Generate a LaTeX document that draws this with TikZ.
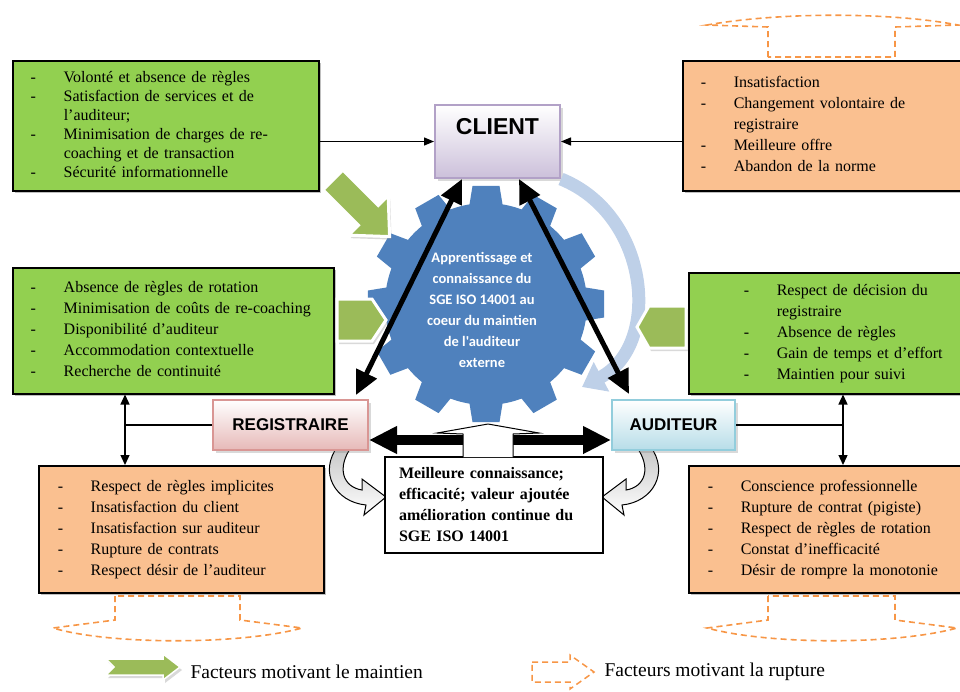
\documentclass[tikz,border=0pt]{standalone}
\usepackage{fontspec}
\setmainfont{Liberation Serif}
\newfontfamily\arialf{Liberation Sans}
\newfontfamily\calibf{Carlito}
\usetikzlibrary{arrows.meta,shadows}
\definecolor{boxgreen}{RGB}{146,208,80}
\definecolor{boxorange}{RGB}{250,192,144}
\definecolor{olivegreen}{RGB}{155,187,89}
\definecolor{gearblue}{RGB}{79,129,189}
\definecolor{arcblue}{RGB}{190,208,232}
\definecolor{dashorange}{RGB}{247,150,70}
\definecolor{clientlav}{RGB}{204,192,218}
\definecolor{clientedge}{RGB}{178,161,199}
\definecolor{regpink}{RGB}{230,185,184}
\definecolor{regedge}{RGB}{217,150,148}
\definecolor{audblue}{RGB}{183,221,232}
\definecolor{audedge}{RGB}{146,205,220}
\newcommand\facts[2]{\noindent\hspace*{#1}\begin{tabular}{@{}p{33pt}@{}l@{}}#2\end{tabular}}

\begin{document}
\begin{tikzpicture}[x=1pt,y=-1pt,
  factbox/.style={draw=black,line width=1.5pt,anchor=north west,inner xsep=5pt,inner ysep=0pt,align=left,
    font=\fontsize{16}{21}\selectfont,drop shadow={shadow xshift=2pt,shadow yshift=-2pt,opacity=0.5}},
  keepbox/.style={factbox,fill=boxgreen},
  quitbox/.style={factbox,fill=boxorange},
  actor/.style={line width=2pt,font=\arialf\bfseries\fontsize{17}{20}\selectfont,
    drop shadow={shadow xshift=3pt,shadow yshift=-3pt,opacity=0.3}},
  gainbox/.style={draw=black,line width=1.3pt,fill=white,minimum width=218pt,minimum height=96pt,
    text width=190pt,align=left,font=\bfseries\fontsize{16}{21}\selectfont},
  keeparrow/.style={fill=olivegreen,draw=white,line width=3pt,drop shadow={shadow xshift=2pt,shadow yshift=-3pt,opacity=0.3}},
  quitarrow/.style={draw=dashorange,line width=1.6pt,dash pattern=on 6pt off 4pt},
  feed/.style={line width=1.3pt,-{Triangle[length=10pt,width=8pt]}},
  fork/.style={line width=1.3pt,{Triangle[length=10pt,width=9pt]}-{Triangle[length=10pt,width=9pt]}},
  tie/.style={line width=5pt,{Triangle[length=24pt,width=22pt]}-{Triangle[length=24pt,width=22pt]}},
  pushbar/.style={line width=10pt,-{Triangle[length=28pt,width=26pt]}}
]
\useasboundingbox (0,0) rectangle (960,691);

\coordinate (gearc) at (486,304);
\fill[gearblue] (gearc) circle (101);
\foreach \a in {0,30,...,330}
  \fill[gearblue] ([shift={(\a-10:98)}]gearc) -- ([shift={(\a-6.5:119)}]gearc) -- ([shift={(\a+6.5:119)}]gearc) -- ([shift={(\a+10:98)}]gearc) -- cycle;
\node[text=white,align=center,font=\calibf\bfseries\fontsize{14.5}{21}\selectfont] (geartxt) at (482,310)
  {Apprentissage et\\connaissance du\\SGE ISO 14001 au\\coeur du maintien\\de l'auditeur\\externe};

\draw[top color=gray!45,bottom color=white,line width=1pt] (338,446) .. controls (318,472) and (335,502) .. (366,505) -- (364,515) -- (386,497) -- (362,479) -- (362,490) .. controls (343,487) and (336,468) .. (352,446) -- cycle;
\draw[top color=gray!45,bottom color=white,line width=1pt] (650,446) .. controls (670,472) and (653,502) .. (622,505) -- (624,515) -- (602,497) -- (626,479) -- (626,490) .. controls (645,487) and (652,468) .. (636,446) -- cycle;

\node[actor,minimum width=125pt,minimum height=73pt,draw=clientedge,top color=white,bottom color=clientlav,
  font=\arialf\bfseries\fontsize{23}{26}\selectfont,text height=16pt,text depth=30pt] (client) at (497.5,141.5) {CLIENT};
\node[actor,minimum width=155pt,minimum height=50pt,draw=regedge,top color=white,bottom color=regpink] (registraire) at (290.5,425) {REGISTRAIRE};
\node[actor,minimum width=123pt,minimum height=50pt,draw=audedge,top color=white,bottom color=audblue] (auditeur) at (673.5,425) {AUDITEUR};

\node[keepbox,minimum width=306pt,minimum height=130pt,text width=296pt,font=\fontsize{16}{19}\selectfont] (g1) at (12,60)
  {\facts{13pt}{- & Volonté et absence de règles\\- & Satisfaction de services et de\\ & l’auditeur;\\- & Minimisation de charges de re-\\ & coaching et de transaction\\- & Sécurité informationnelle}};
\node[quitbox,minimum width=281pt,minimum height=130pt,text width=271pt] (o1) at (682,60)
  {\facts{13pt}{- & Insatisfaction\\- & Changement volontaire de\\ & registraire\\- & Meilleure offre\\- & Abandon de la norme}};
\node[keepbox,minimum width=321pt,minimum height=126pt,text width=311pt] (g2) at (12,267)
  {\facts{13pt}{- & Absence de règles de rotation\\- & Minimisation de coûts de re-coaching\\- & Disponibilité d’auditeur\\- & Accommodation contextuelle\\- & Recherche de continuité}};
\node[keepbox,minimum width=275pt,minimum height=121pt,text width=265pt] (g3) at (688,272)
  {\facts{50pt}{- & Respect de décision du\\ & registraire\\- & Absence de règles\\- & Gain de temps et d’effort\\- & Maintien pour suivi}};
\node[quitbox,minimum width=285pt,minimum height=127pt,text width=275pt] (o2) at (38,465)
  {\facts{14pt}{- & Respect de règles implicites\\- & Insatisfaction du client\\- & Insatisfaction sur auditeur\\- & Rupture de contrats\\- & Respect désir de l’auditeur}};
\node[quitbox,minimum width=275pt,minimum height=127pt,text width=265pt] (o3) at (688,465)
  {\facts{14pt}{- & Conscience professionnelle\\- & Rupture de contrat (pigiste)\\- & Respect de règles de rotation\\- & Constat d’inefficacité\\- & Désir de rompre la monotonie}};

\draw[arcblue,line width=13pt,-{Triangle[length=22pt,width=32pt]}] (client.south east) .. controls (650,215) and (662,345) .. ([xshift=-29pt,yshift=12pt]auditeur.north west);

\draw[tie] ([xshift=28pt]client.south west) -- ([xshift=-13pt,yshift=4pt]registraire.north east);
\draw[tie] ([xshift=-42pt]client.south east) -- ([xshift=18pt,yshift=5pt]auditeur.north west);

\draw[feed] (g1.east |- client.west) -- (client.west);
\draw[feed] (o1.west |- client.east) -- (client.east);

\coordinate (jl) at (125,425);
\coordinate (jr) at (843,425);
\draw[fork] (g2.south -| jl) -- (o2.north -| jl);
\draw[line width=1.3pt] (registraire.west) -- (jl);
\draw[fork] (g3.south -| jr) -- (o3.north -| jr);
\draw[line width=1.3pt] (auditeur.east) -- (jr);

\node[gainbox] (gain) at (494,505) {Meilleure connaissance;\\efficacité; valeur ajoutée\\amélioration continue du\\SGE ISO 14001};
\coordinate (upL) at (463,440);
\coordinate (upR) at (513,440);
\draw[pushbar] (upL) -- (registraire.east |- upL);
\draw[pushbar] (upR) -- (auditeur.west |- upR);
\draw[fill=white,line width=1pt] (463,457) -- (463,434) -- (437,433) -- (488,424) -- (539,433) -- (513,434) -- (513,457);

\begin{scope}[shift={(333,180)},rotate=-45]
\filldraw[keeparrow] (0,-14) -- (50,-14) -- (50,-28) -- (80,0) -- (50,28) -- (50,14) -- (0,14) -- cycle;
\end{scope}
\filldraw[keeparrow] (337,299) -- (372,299) -- (386,320) -- (372,341) -- (337,341) -- cycle;
\filldraw[keeparrow] (686,306) -- (649,306) -- (637,327) -- (649,348) -- (686,348) -- cycle;

\draw[quitarrow] (768,57) -- (768,27) -- (707,25) .. controls (780,12) and (890,12) .. (958,25) -- (895,27) -- (895,57) -- cycle;
\draw[quitarrow] (115,596) -- (115,620) -- (53,628) .. controls (110,645) and (240,645) .. (302,628) -- (240,620) -- (240,596) -- cycle;
\draw[quitarrow] (768,596) -- (768,620) -- (707,628) .. controls (770,645) and (895,645) .. (957,628) -- (895,620) -- (895,596) -- cycle;

\filldraw[keeparrow,line width=1.5pt] (106,659) -- (163,659) -- (163,654) -- (180,667) -- (163,680) -- (163,675) -- (106,675) -- (114,667) -- cycle;
\node[anchor=west,font=\fontsize{19.5}{22}\selectfont] (keeplegend) at (187,672) {Facteurs motivant le maintien};
\draw[quitarrow,line width=1.5pt] (532,662) -- (570,662) -- (570,655) -- (594,672) -- (570,689) -- (570,682) -- (532,682) -- cycle;
\node[anchor=west,font=\fontsize{19.5}{22}\selectfont] (quitlegend) at (601,672) {Facteurs motivant la rupture};
\end{tikzpicture}
\end{document}
